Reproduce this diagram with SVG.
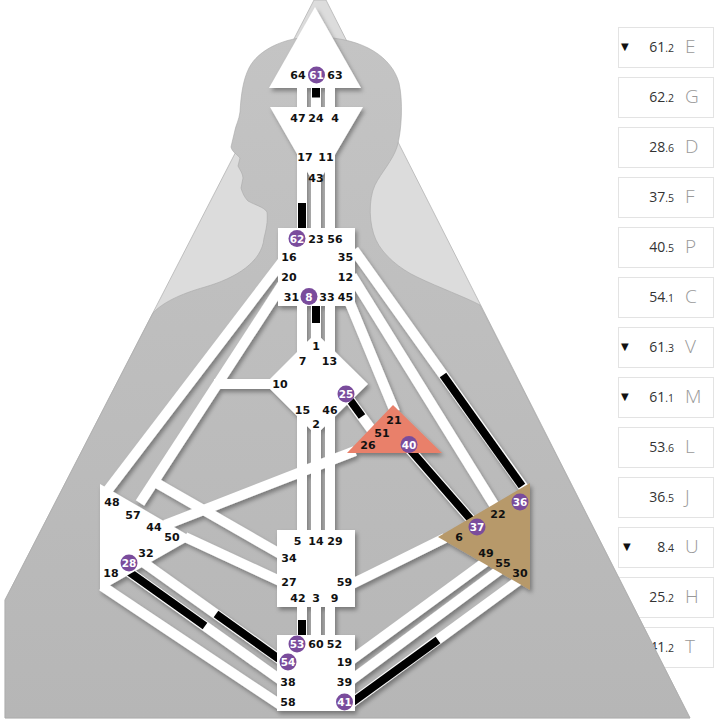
<svg xmlns="http://www.w3.org/2000/svg" width="722" height="725" viewBox="0 0 722 725">
<style>
.box{fill:#fff;stroke:#e3e3e3;stroke-width:1}
.num{font-family:"Open Sans","Liberation Sans",sans-serif;fill:#333;text-anchor:end}
.big{font-size:14px}
.sm{font-size:10.5px}
.let{font-family:"Open Sans","Liberation Sans",sans-serif;font-weight:300;font-size:19px;fill:#999}
.tri{font-family:"DejaVu Sans",sans-serif;font-size:10px;fill:#111}
.ch{stroke:#fff;stroke-width:10;fill:none;stroke-linecap:butt}
.on{stroke:#000;stroke-width:8;fill:none;stroke-linecap:butt}
.c{fill:#fff}
.g{font-family:"DejaVu Sans","Liberation Sans",sans-serif;font-weight:bold;font-size:11px;fill:#111;text-anchor:middle}
.a{fill:#7a4c9c}
.aw{font-family:"DejaVu Sans","Liberation Sans",sans-serif;font-weight:bold;font-size:10.5px;fill:#fff;text-anchor:middle}
</style>
<defs>
<filter id="sh" x="-10%" y="-10%" width="130%" height="130%">
<feDropShadow dx="2" dy="3" stdDeviation="2.2" flood-color="#000" flood-opacity="0.35"/>
</filter>
<linearGradient id="bg" x1="0" y1="0" x2="0" y2="1">
<stop offset="0" stop-color="#c4c4c4"/>
<stop offset="1" stop-color="#b6b6b6"/>
</linearGradient>
</defs>
<rect width="722" height="725" fill="#fff"/>
<g id="panel">
<rect class="box" x="618.5" y="27.5" width="95" height="40"/>
<text class="tri" x="621" y="50">▼</text>
<text class="num" x="674" y="52"><tspan class="big">61</tspan><tspan class="sm">.2</tspan></text>
<text class="let" x="685" y="53">E</text>
<rect class="box" x="618.5" y="77.5" width="95" height="40"/>
<text class="num" x="674" y="102"><tspan class="big">62</tspan><tspan class="sm">.2</tspan></text>
<text class="let" x="685" y="103">G</text>
<rect class="box" x="618.5" y="127.5" width="95" height="40"/>
<text class="num" x="674" y="152"><tspan class="big">28</tspan><tspan class="sm">.6</tspan></text>
<text class="let" x="685" y="153">D</text>
<rect class="box" x="618.5" y="177.5" width="95" height="40"/>
<text class="num" x="674" y="202"><tspan class="big">37</tspan><tspan class="sm">.5</tspan></text>
<text class="let" x="685" y="203">F</text>
<rect class="box" x="618.5" y="227.5" width="95" height="40"/>
<text class="num" x="674" y="252"><tspan class="big">40</tspan><tspan class="sm">.5</tspan></text>
<text class="let" x="685" y="253">P</text>
<rect class="box" x="618.5" y="277.5" width="95" height="40"/>
<text class="num" x="674" y="302"><tspan class="big">54</tspan><tspan class="sm">.1</tspan></text>
<text class="let" x="685" y="303">C</text>
<rect class="box" x="618.5" y="327.5" width="95" height="40"/>
<text class="tri" x="621" y="350">▼</text>
<text class="num" x="674" y="352"><tspan class="big">61</tspan><tspan class="sm">.3</tspan></text>
<text class="let" x="685" y="353">V</text>
<rect class="box" x="618.5" y="377.5" width="95" height="40"/>
<text class="tri" x="621" y="400">▼</text>
<text class="num" x="674" y="402"><tspan class="big">61</tspan><tspan class="sm">.1</tspan></text>
<text class="let" x="685" y="403">M</text>
<rect class="box" x="618.5" y="427.5" width="95" height="40"/>
<text class="num" x="674" y="452"><tspan class="big">53</tspan><tspan class="sm">.6</tspan></text>
<text class="let" x="685" y="453">L</text>
<rect class="box" x="618.5" y="477.5" width="95" height="40"/>
<text class="num" x="674" y="502"><tspan class="big">36</tspan><tspan class="sm">.5</tspan></text>
<text class="let" x="685" y="503">J</text>
<rect class="box" x="618.5" y="527.5" width="95" height="40"/>
<text class="tri" x="623" y="550">▼</text>
<text class="num" x="674" y="552"><tspan class="big">8</tspan><tspan class="sm">.4</tspan></text>
<text class="let" x="685" y="553">U</text>
<rect class="box" x="618.5" y="577.5" width="95" height="40"/>
<text class="num" x="674" y="602"><tspan class="big">25</tspan><tspan class="sm">.2</tspan></text>
<text class="let" x="685" y="603">H</text>
<rect class="box" x="618.5" y="627.5" width="95" height="40"/>
<text class="num" x="674" y="652"><tspan class="big">41</tspan><tspan class="sm">.2</tspan></text>
<text class="let" x="685" y="653">T</text>
</g>
<g id="background">
<polygon points="314,0 326,0 690,718 5,718 5,600" fill="#dcdcdc" stroke="#b4b4b4" stroke-width="0.8"/>
<path fill="url(#bg)" stroke="#a8a8a8" stroke-width="0.6" d="M 264,238 C 262,262 236,278 205,287 C 180,294 162,303 153,313 L 5,600 L 5,718 L 690,718 L 480,305 C 465,297 440,288 417,277 C 400,269 383,255 376,240 C 369,225 368,200 375,185 C 381,173 393,160 397,147 C 402,130 403,100 399,83 C 392,58 365,38 318,37 C 285,36 258,50 249,68 C 243,80 241,95 240,112 C 239,120 236,125 235,130 L 231,147 C 232,152 238,155 240,158 L 238,166 C 240,170 243,174 243,178 L 241,188 C 243,195 246,199 248,201 C 255,205 264,207 267,212 C 268,222 266,230 264,238 Z"/>
</g>
<g id="graph" filter="url(#sh)">
<g id="channels">
<line class="ch" x1="302" y1="84" x2="302" y2="111"/>
<line class="ch" x1="316" y1="84" x2="316" y2="111"/>
<line class="on" x1="316" y1="88" x2="316" y2="97.5"/>
<line class="ch" x1="330" y1="84" x2="330" y2="111"/>
<line class="ch" x1="302" y1="150" x2="302" y2="232"/>
<line class="on" x1="302" y1="203" x2="302" y2="229"/>
<line class="ch" x1="316" y1="178" x2="316" y2="232"/>
<line class="ch" x1="330" y1="150" x2="330" y2="232"/>
<line class="ch" x1="302" y1="300" x2="302" y2="352"/>
<line class="ch" x1="316" y1="300" x2="316" y2="342"/>
<line class="on" x1="316" y1="305" x2="316" y2="323"/>
<line class="ch" x1="330" y1="300" x2="330" y2="352"/>
<line class="ch" x1="302" y1="415" x2="302" y2="535"/>
<line class="ch" x1="316" y1="425" x2="316" y2="535"/>
<line class="ch" x1="330" y1="415" x2="330" y2="535"/>
<line class="ch" x1="302" y1="602" x2="302" y2="640"/>
<line class="on" x1="302" y1="620" x2="302" y2="636"/>
<line class="ch" x1="316" y1="602" x2="316" y2="640"/>
<line class="ch" x1="330" y1="602" x2="330" y2="640"/>
<line class="ch" x1="285" y1="258" x2="108" y2="490"/>
<line class="ch" x1="282" y1="285" x2="140" y2="503"/>
<line class="ch" x1="272" y1="384" x2="214" y2="384"/>
<line class="ch" x1="282" y1="555" x2="153" y2="481"/>
<line class="ch" x1="355" y1="451" x2="165" y2="525"/>
<line class="ch" x1="185" y1="537" x2="282" y2="582"/>
<line class="ch" x1="102" y1="586" x2="282" y2="706"/>
<line class="ch" x1="115" y1="562" x2="282" y2="681"/>
<line class="on" x1="125" y1="569" x2="205" y2="626"/>
<line class="ch" x1="140" y1="560" x2="282" y2="661"/>
<line class="on" x1="216" y1="614" x2="279" y2="659"/>
<line class="ch" x1="347" y1="296" x2="395" y2="412"/>
<line class="ch" x1="344" y1="392" x2="382" y2="444"/>
<line class="on" x1="350" y1="400" x2="362" y2="416.5"/>
<line class="ch" x1="354" y1="250" x2="526" y2="491"/>
<line class="on" x1="443" y1="375" x2="522" y2="486"/>
<line class="ch" x1="352" y1="276" x2="496" y2="508"/>
<line class="ch" x1="400" y1="438" x2="480" y2="530"/>
<line class="on" x1="400" y1="438" x2="480" y2="530"/>
<line class="ch" x1="350" y1="585" x2="445" y2="538"/>
<line class="ch" x1="350" y1="661" x2="488" y2="560"/>
<line class="ch" x1="350" y1="681" x2="505" y2="566"/>
<line class="ch" x1="350" y1="704" x2="522" y2="578"/>
<line class="on" x1="352" y1="702.5" x2="438" y2="640"/>
</g>
<g id="head"><polygon class="c" points="315,7 361,88 269,88"/></g>
<g id="ajna"><polygon class="c" points="270,107 363,107 316,187"/></g>
<g id="throat"><rect class="c" x="278" y="228" width="77" height="78"/></g>
<g id="g-center"><polygon class="c" points="316,333 368,384 316,435 265,384"/></g>
<g id="heart"><polygon points="347,453 393,405 442,453" fill="#e9806a"/></g>
<g id="spleen"><polygon class="c" points="100,484 193,538 100,591"/></g>
<g id="sacral"><rect class="c" x="277" y="530" width="78" height="77"/></g>
<g id="root"><rect class="c" x="277" y="635" width="78" height="76"/></g>
<g id="solar-plexus"><polygon points="438,537 530,483 530,590" fill="#b7996b"/></g>
</g>
<g id="labels">
<text class="g" x="298" y="79">64</text>
<circle class="a" cx="316.5" cy="75" r="8.5"/><text class="aw" x="316.5" y="79">61</text>
<text class="g" x="335" y="79">63</text>
<text class="g" x="298" y="122">47</text>
<text class="g" x="316" y="122">24</text>
<text class="g" x="335" y="122">4</text>
<text class="g" x="305" y="161">17</text>
<text class="g" x="326" y="161">11</text>
<text class="g" x="316" y="182">43</text>
<circle class="a" cx="297" cy="238.5" r="8.5"/><text class="aw" x="297" y="242.5">62</text>
<text class="g" x="316" y="242.5">23</text>
<text class="g" x="335" y="242.5">56</text>
<text class="g" x="289" y="260.5">16</text>
<text class="g" x="345.5" y="260.5">35</text>
<text class="g" x="289" y="280.5">20</text>
<text class="g" x="345.5" y="280.5">12</text>
<text class="g" x="291.5" y="300.5">31</text>
<circle class="a" cx="309" cy="296.5" r="8.5"/><text class="aw" x="309" y="300.5">8</text>
<text class="g" x="327" y="300.5">33</text>
<text class="g" x="345.5" y="300.5">45</text>
<text class="g" x="316" y="350">1</text>
<text class="g" x="302.5" y="364.5">7</text>
<text class="g" x="329.5" y="364.5">13</text>
<text class="g" x="280" y="387.5">10</text>
<circle class="a" cx="346" cy="394" r="8.5"/><text class="aw" x="346" y="398">25</text>
<text class="g" x="302.5" y="414">15</text>
<text class="g" x="330" y="414">46</text>
<text class="g" x="316" y="428">2</text>
<text class="g" x="394" y="424">21</text>
<text class="g" x="382" y="436.5">51</text>
<text class="g" x="368" y="449">26</text>
<circle class="a" cx="409" cy="444.5" r="8.5"/><text class="aw" x="409" y="448.5">40</text>
<text class="g" x="112" y="506">48</text>
<text class="g" x="133" y="519">57</text>
<text class="g" x="154" y="531">44</text>
<text class="g" x="172" y="541">50</text>
<text class="g" x="146" y="557">32</text>
<circle class="a" cx="129" cy="563" r="8.5"/><text class="aw" x="129" y="567">28</text>
<text class="g" x="111" y="577">18</text>
<text class="g" x="297.5" y="545">5</text>
<text class="g" x="316" y="545">14</text>
<text class="g" x="335" y="545">29</text>
<text class="g" x="289" y="561.5">34</text>
<text class="g" x="289" y="586">27</text>
<text class="g" x="344.5" y="586">59</text>
<text class="g" x="298" y="602">42</text>
<text class="g" x="316" y="602">3</text>
<text class="g" x="334.5" y="602">9</text>
<circle class="a" cx="297" cy="644" r="8.5"/><text class="aw" x="297" y="648">53</text>
<text class="g" x="316" y="648">60</text>
<text class="g" x="334.5" y="648">52</text>
<circle class="a" cx="288" cy="662" r="8.5"/><text class="aw" x="288" y="666">54</text>
<text class="g" x="344.5" y="666">19</text>
<text class="g" x="288" y="686">38</text>
<text class="g" x="344.5" y="686">39</text>
<text class="g" x="288" y="706">58</text>
<circle class="a" cx="344.5" cy="702" r="8.5"/><text class="aw" x="344.5" y="706">41</text>
<circle class="a" cx="520" cy="502" r="8.5"/><text class="aw" x="520" y="506">36</text>
<text class="g" x="498" y="518">22</text>
<circle class="a" cx="477" cy="527" r="8.5"/><text class="aw" x="477" y="531">37</text>
<text class="g" x="459" y="541">6</text>
<text class="g" x="486" y="557">49</text>
<text class="g" x="503" y="567">55</text>
<text class="g" x="520" y="577">30</text>
</g>
</svg>
